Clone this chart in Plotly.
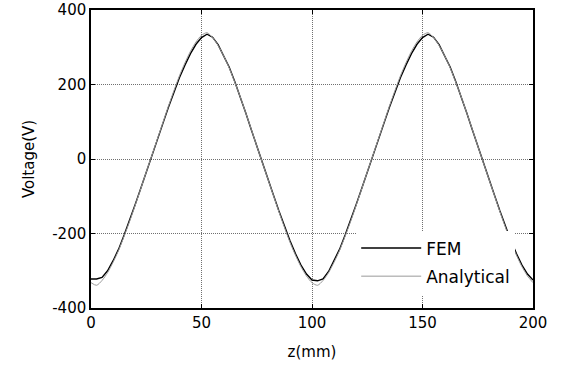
import plotly.graph_objects as go

z_mm = [0, 2.5, 5, 7.5, 10, 12.5, 15, 17.5, 20, 22.5, 25, 27.5, 30, 32.5, 35, 37.5, 40, 42.5, 45, 47.5,
        50, 52.5, 55, 57.5, 60, 62.5, 65, 67.5, 70, 72.5, 75, 77.5, 80, 82.5, 85, 87.5, 90, 92.5, 95, 97.5,
        100, 102.5, 105, 107.5, 110, 112.5, 115, 117.5, 120, 122.5, 125, 127.5, 130, 132.5, 135, 137.5, 140, 142.5, 145, 147.5,
        150, 152.5, 155, 157.5, 160, 162.5, 165, 167.5, 170, 172.5, 175, 177.5, 180, 182.5, 185, 187.5, 190, 192.5, 195, 197.5, 200]

fem_v = [-322, -322, -318, -300, -273, -242, -204, -165, -122, -79, -34, 9, 52, 95, 138, 179, 218, 252, 283, 308,
         326, 335, 327, 307, 279, 247, 209, 168, 124, 79, 34, -10, -53, -96, -139, -180, -219, -254, -285, -309,
         -325, -327, -322, -302, -274, -242, -204, -165, -122, -79, -34, 9, 52, 95, 138, 179, 218, 252, 283, 308,
         326, 335, 327, 307, 279, 247, 209, 168, 124, 79, 34, -10, -53, -96, -139, -180, -219, -254, -285, -309,
         -325]

analytical_v = [-332, -339, -326, -305, -277, -245, -207, -167, -124, -80, -35, 9, 53, 97, 141, 183, 223, 258, 289, 314,
                332, 339, 326, 305, 277, 245, 207, 167, 124, 80, 35, -9, -53, -97, -141, -183, -223, -258, -289, -314,
                -332, -339, -326, -305, -277, -245, -207, -167, -124, -80, -35, 9, 53, 97, 141, 183, 223, 258, 289, 314,
                332, 339, 326, 305, 277, 245, 207, 167, 124, 80, 35, -9, -53, -97, -141, -183, -223, -258, -289, -314,
                -332]

x_ticks = [0, 50, 100, 150, 200]
y_ticks = [-400, -200, 0, 200, 400]

font_family = "DejaVu Sans, Liberation Sans, Arial, sans-serif"

fig = go.Figure()
fig.add_trace(go.Scatter(x=z_mm, y=fem_v, mode="lines", name="FEM",
                         line=dict(color="black", width=1.4), legendgroup="a"))
fig.add_trace(go.Scatter(x=z_mm, y=analytical_v, mode="lines", name="Analytical",
                         line=dict(color="#9a9a9a", width=1, shape="spline", smoothing=0.8),
                         legendgroup="b"))

axis_common = dict(
    showline=True, linecolor="black", linewidth=1.5, mirror="ticks",
    ticks="inside", ticklen=4, tickcolor="black", tickwidth=1,
    showgrid=True, gridcolor="#707070", gridwidth=1, griddash="1px,1px",
    zeroline=False, automargin=False,
    tickfont=dict(family=font_family, size=15, color="black"),
)

fig.update_xaxes(range=[0, 200], tickvals=x_ticks, ticktext=[str(v) for v in x_ticks],
                 title=dict(text="z(mm)", font=dict(family=font_family, size=15, color="black"), standoff=16),
                 **axis_common)
fig.update_yaxes(range=[-400, 400], tickvals=y_ticks, ticktext=[str(v) for v in y_ticks],
                 title=dict(text="Voltage(V)", font=dict(family=font_family, size=15, color="black"), standoff=14),
                 **axis_common)

fig.update_layout(
    width=566, height=367,
    margin=dict(l=91, r=33, t=10, b=59),
    paper_bgcolor="white", plot_bgcolor="white",
    showlegend=True,
    legend=dict(x=0.6, y=0.26, xanchor="left", yanchor="top",
                bgcolor="white", borderwidth=0,
                font=dict(family=font_family, size=17, color="black"),
                traceorder="grouped", tracegroupgap=3, itemwidth=60),
)

fig.write_html("out.html")
